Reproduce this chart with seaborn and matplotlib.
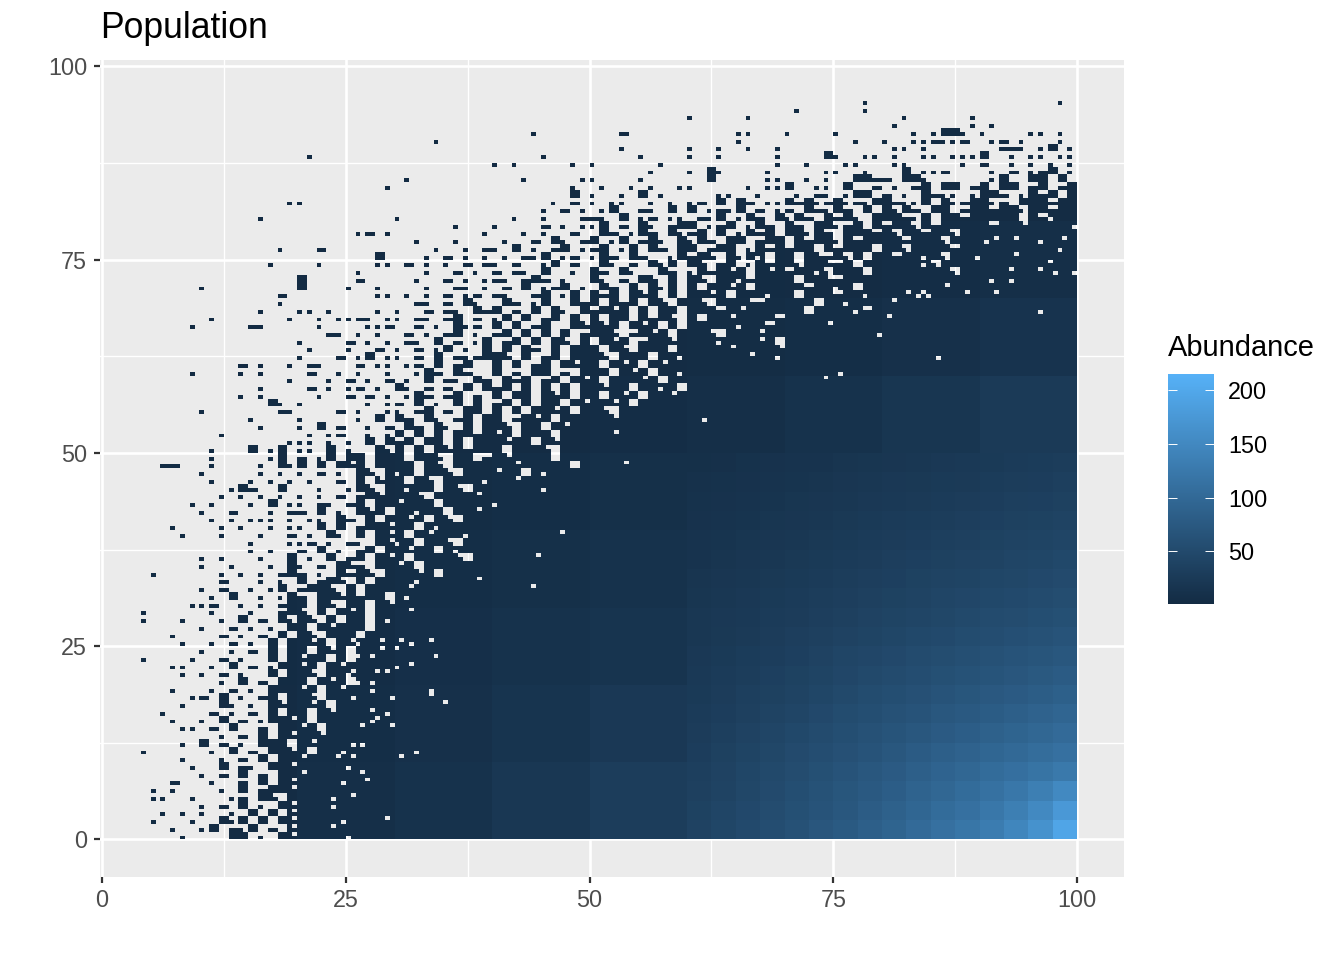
import numpy as np
import pandas as pd
import matplotlib
matplotlib.use("Agg")
import matplotlib.pyplot as plt
from matplotlib.colors import LinearSegmentedColormap
import seaborn as sns

# Occupied cells, one row per unit of y.
# (y, first decade of x, one character per unit of x)
# . empty, o one cell, - two cells side by side, u and v three cells, # all four cells
# Rows up to LAST_SOLID_ROW are filled up to x = 100 after the pattern ends.
LAST_SOLID_ROW = 82
ROWS = [
    (95, 7, "........o. .......... ........o."),
    (94, 7, ".o......o."),
    (93, 6, "o.....o... .......... ..o......o"),
    (92, 8, ".o.......o .o"),
    (91, 4, "....o..... ...-...... .....oo... o....o.... ...o.o##o. o....oo.o."),
    (90, 3, "....o..... .......... .......... .....o.... .......o.. o..oo-oo-. .o-.o...o."),
    (89, 5, "...o...... o..o..o..o .......... .oo.o..... ..--o.o#.o"),
    (88, 2, ".o........ .......... .....o.... .....o.... o..o.....o ....#o..oo .o..oo.ooo #..o.oo.oo"),
    (87, 4, "o.o.....o. o......o.. .........o ..o...oo.. .oo.....o. -..o.o.o.o"),
    (86, 5, "......o... o.#o....o. ....oo..o. ..#.oo-... .o.-.o-#.o"),
    (85, 3, ".o........ ...o.....o o....o.... ..#.....oo ..o.o..##- -.##o..... .o#..##.#."),
    (84, 2, ".........o .......... ........o. .o..o.o..o o.....o.oo #..oo.#..- .o.-#.##.- #.##.-#.-#"),
    (83, 4, "........#. o..o.#.o.. ...oo..o.. .o.-o.o##. -.o.#-oo.o ##-.o#-#.#"),
    (82, 1, ".........o o......... .......... ......o.-. o.oo..o.o. o-.#.#-.oo #-#o-#o-o# #-oo#.#o-# #o-.###-##"),
    (81, 3, ".......... .....o.-.o .o#..-o.#. #.o-o#.-.o -.#-o#-.#. #o#-.##.-# #-##o##-##"),
    (80, 1, "......o... .......... o......... ..o..o...- -o.#.o-.oo .-o#.o#-.# o#-.#-#o.# ##-o#.##-# ####.#-###"),
    (79, 3, "......o... o....-.o.o o#.-.#o.-# #.o-#.o#-. #-.##o-#.# -##o#-#### #-#####"),
    (78, 2, "......o-.o .........o ...o.o..-. .#-.o#-.#o -#.#.o#-#. ##o#-.###- #o##-##o## ######"),
    (77, 2, ".......... ..o...o... .o..-.#o.- #.o#.-#o.# o#-.##.-## .#-##o#-## ##-###o### ####"),
    (76, 1, "........o. ..-....... ....o..o.- o.#.o.-#.o -#.o#.#-.# #.-##.o#-# -##.#-###. ##o####-## ##"),
    (75, 2, "........#. ...o.-.o.o .o.-o#.o-. o#-.#-..o# -#u.#o#v.# #.#u-#o#.# #-##v#o### #"),
    (74, 1, ".......o.. ..o.....oo .-.o.o.-.- o.-..o#.-. .#o.-.#o#. #u.-#.o#-# #o##u-#.## ####vo####"),
    (73, 2, "......o... ...o..-.o. -.-o.#..o. #-.#o..#-. o#-#u#.#u# -##vo###.# #######o"),
    (72, 2, "#.....-... ..o..-.o.o -o.-#-.o.. #o.-.#u.#. #u.##v-### #.##u-#### #######"),
    (71, 1, "o......... #....o..o. ...o..-o.o .-.#.o-#.o .#-.#.#o#. #.##u#.### ##-##v#.## ######"),
    (70, 1, "........-. ........oo .o.o.-.o-. -o..-#.o#. #-#.#u#.#. ##u#.###v# #.###-#### ####"),
    (69, 1, "........o. .......... ..-o.-.#o. .#-.o#..#- #.#-#.#u.# #u.###u-## ###.##v### ##"),
    (68, 1, "......o... oo.o....o. o..-.-o.#- #.-.#.#o.# -#u#.#.##. ###-#u#### ##.####v-#"),
    (67, 1, ".o.......o ..o.oo-o.o o.-o.-#.-. o#.#.-#.#. #.##.#-#u. #.##u####- #######"),
    (66, 0, ".........o .....-o... ..o....oo- ..-.o.#o-. #.#.-#..#u #u#.#u#.#. #####v##-# ####"),
    (65, 2, "...-o.o.o. .-.o.-#.o. -#.#.#.#.- ##u.-#u#.# ##u.###u## ##"),
    (64, 2, "o....-.o.o .-o.#.-.o# .-#.#.#u.# .#u#.-##u# ###v###u#."),
    (63, 2, ".o...o..-. o.-.o#.o.# .#.#-.#.## #.#u.###.# ####u###"),
    (62, 2, "o...-.o#.o o.-.#.-o-# #u.#.-#.## #u.###.##v ######"),
    (61, 1, "....-.o..o .-o...-.oo .o-.#.-#.. #.#.-#.#u# #.#u#.#u## ####"),
    (60, 0, ".........o ....o.o... .-..o.o..o ..o#-.#-.. #.-.##.-.# ##.#u#.##v ###"),
    (59, 1, ".........o ...o.-.o.- .o.#.-o.#- .#-#.-#.#u #.###u#.## ##"),
    (58, 1, "......o... .-.o.o-.o. #o.-.-.#.# -#.#.#.#.# #u##.##v#. #"),
    (57, 1, "....o.o... ..o..-.-.o .o#-.-#.-. #.##.#u#.# #.#u#.##u#"),
    (56, 1, ".......#o. o......o.o -.#.o.#.#. -#.#.##.#u ##u#.###"),
    (55, 1, "o.......-o ....-.o..o o.-#.-.##. #.#.##u#.# #u.####"),
    (54, 1, ".....o.... o.....o.#. #-.#o.-#.# #.-#u#.### ##u###"),
    (53, 1, "......o... o.#.-..o.- .#-.#o.#.# #u.##.#u## ###"),
    (52, 1, "..o....... .o.o-..o.o #.#.#.##-# u#.###.### ##u#"),
    (51, 1, ".........o oo.o.o.#.# -#.##.#.## #u##.#u### ###"),
    (50, 1, ".o...#.o#. oo.#.o..#o #.#.#u#-## #.###u.### ##"),
    (49, 1, ".o.....o#. -.o#.##.## #.##u.##.- #u####.### #"),
    (48, 0, "......--.. .o....o.#o #.#.#u#.## ##.#u.#### ##u#####.#"),
    (47, 1, "o.....o.o. o.-.o.#u.# v#.##u.### u##.#v###"),
    (46, 1, ".o...o.o.o .o..-.#.u# #.#u.####v ##u#####"),
    (45, 1, "...o#-..#. ..o..o#u.# #v##.#u.## #####v#"),
    (44, 1, "..o.o.o.o. o.o.-.-#u# ##u.####u# ######"),
    (43, 0, ".........o .o...o.#.o o.-o.-#.## u###.##### v#####"),
    (42, 1, "o..-...o.- -.#.o.#u#. ##v##.##u# #####"),
    (41, 1, ".o.o.ooo.o .oo.#-.#.# #u#.#u.### ####"),
    (40, 0, ".......o.. ..o.o..o.o o.#.#.-##u ##.#v##### ###"),
    (39, 0, "........o. ..o...o..- .o.#o.#.#u #.#u###v## ##"),
    (38, 1, ".....o...o o-.o.-o.#u v#.##u.### ##"),
    (37, 1, ".....o.o.. -.#.o.-#.# #u##.#v### #"),
    (36, 1, "o.o...o..# .o.#.-#.#u #.####u.## #"),
    (35, 1, "o..o...o.# o.-.#u-.## u#.#######"),
    (34, 0, ".....o.... ..o.o.o.-# -.o.#-#u.# ##u#.####"),
    (33, 1, "..-...o.o. #.-#u.#.## ##v#####u"),
    (32, 1, "o.-..o.o#. -##u.#.### #u#####"),
    (31, 1, ".o.#..o.o# -.##u#-##. #v####"),
    (30, 0, ".........o o-..o.o.-# #.#u.##.#u ######"),
    (29, 0, "....o..... .o...o..-# u.#.#u#.## #u###"),
    (28, 0, "....o...o. ..o.#.-.#o #u.#.##.#v ####"),
    (27, 1, "o..-.o.o.# #.#u###.## ###"),
    (26, 0, ".......o.. ..-.o.-.#. #u.###.### ##"),
    (25, 0, "........o. .o.-.o.#.# #u#.#u####"),
    (24, 1, "o..o.-.#.# #.#u#.####"),
    (23, 0, "....o....o ..-.o..#.# u##.#.#u##"),
    (22, 0, ".......oo. .o.#.-.o## u#.#u###"),
    (21, 0, "........o. o.-.o..#.# #u.##u###"),
    (20, 1, "..o.#.-.## #.#u#.##"),
    (19, 0, ".......o.. .o.-.o.### u#.#u##"),
    (18, 0, ".........o -.#.o.-#.# #u.##"),
    (17, 0, "........o. ..#o.o.#u# #u#.##"),
    (16, 0, "......o... .-.o.-.#.# #.#u##"),
    (15, 0, ".......o.. o.#.-.o##u #.##"),
    (14, 0, "........oo .-.#..-.## u#.#"),
    (13, 1, "..o.-.#.#u ##u"),
    (12, 0, "........o. #.-.o.###. #u#"),
    (11, 0, "....o..... .o.#.-.##u #."),
    (10, 0, "........o. ..o.-.#.## u#"),
    (9, 0, ".........o ..#.-o.##u #"),
    (8, 1, "o.-.#.-.## u"),
    (7, 0, ".......-.. .o..-.#.#u"),
    (6, 0, ".....o.o.. ..o.#.-##u"),
    (5, 0, ".....oo..o ...o-.#u."),
    (4, 1, "o.-.#.o.#u"),
    (3, 0, "......o.o. o..o.#.#.u"),
    (2, 0, ".....o...o ..#o#.#.#u"),
    (1, 0, ".......o.. o#.-o#.-.u"),
    (0, 0, "........o. ...##.o.#u"),
]

# Empty cells inside the solid part of the cloud
HOLE_X = [96.3, 79.7, 85.7, 74.8, 69.8, 69.2, 66.8, 80.7, 88.7, 91.8, 99.8, 97.8, 96.2, 97.2,
          93.3, 91.3, 93.3, 86.8, 84.2, 82.8, 84.7, 83.8, 81.2, 78.2, 98.2, 96.2, 98.8, 93.8,
          91.8, 90.7, 89.7, 93.8, 97.2, 94.8, 99.8, 61.7, 74.4, 75.7, 53.9, 47.4, 44.6, 44.3,
          35.4, 33.9, 32.3, 30.9, 29.2, 25.1,
          26.3, 28.9, 30.8, 31.8, 33.8, 28.9, 30.3, 26.3, 34.3, 30.3, 31.8, 28.3, 29.4, 25.3,
          27.8, 26.3, 27.5, 25.8, 29.8, 33.8, 27.8, 29.3, 28.3, 27.8, 26.5, 29.8, 25.8, 26.8,
          24.8, 24.0, 25.8, 30.8, 32.3, 25.3, 26.8, 27.3, 24.8, 25.8, 23.8, 23.8, 24.8, 29.3,
          23.8, 25.3]
HOLE_Y = [68.3, 65.3, 62.3, 66.5, 63.7, 62.2, 62.8, 67.7, 70.7, 70.7, 73.3, 73.3, 73.8, 74.7,
          73.8, 72.3, 72.3, 71.7, 70.7, 70.7, 70.2, 70.2, 69.8, 70.2, 76.3, 77.2, 77.8, 77.8,
          77.5, 77.2, 75.2, 75.6, 80.0, 79.7, 79.0, 54.3, 59.7, 60.3, 48.5, 39.9, 36.7, 32.9,
          17.8, 19.0, 11.3, 10.6, 2.7, 0.2,
          25.3, 25.7, 25.7, 25.3, 25.7, 24.5, 24.8, 23.8, 23.8, 22.3, 22.5, 21.5, 21.7, 21.0,
          20.3, 20.3, 19.3, 18.3, 18.3, 18.7, 16.8, 16.2, 15.7, 15.3, 14.7, 14.7, 12.2, 12.2,
          11.3, 10.7, 10.7, 10.7, 11.3, 9.0, 8.8, 7.7, 7.3, 5.8, 5.3, 4.3, 2.3, 2.8,
          1.8, 0.2]

# Abundance estimated from the colours, bright corner (x >= 60, y < 50)
BRIGHT_X = [60, 62.5, 65, 67.5, 70, 72.5, 75, 77.5, 80, 82.5, 85, 87.5, 90, 92.5, 95, 97.5]
BRIGHT_Y = [0, 2.5, 5, 7.5, 10, 12.5, 15, 17.5, 20, 22.5, 25, 27.5, 30, 32.5, 35, 37.5, 40, 42.5, 45, 47.5]
BRIGHT = [
    [38, 44, 50, 56, 62, 70, 76, 84, 92, 102, 112, 120, 130, 146, 165, 195],
    [37, 42, 48, 54, 60, 66, 72, 80, 87, 95, 104, 112, 122, 134, 150, 175],
    [35, 40, 46, 51, 57, 63, 69, 75, 82, 90, 97, 104, 113, 123, 134, 150],
    [33, 38, 44, 49, 54, 60, 65, 71, 77, 84, 91, 97, 104, 110, 117, 125],
    [31, 36, 41, 46, 51, 56, 61, 66, 72, 78, 84, 89, 95, 100, 106, 112],
    [29, 33, 38, 42, 47, 52, 57, 62, 67, 72, 77, 82, 87, 92, 97, 102],
    [27, 31, 35, 39, 43, 48, 53, 57, 62, 66, 71, 75, 79, 84, 89, 93],
    [25, 29, 33, 36, 40, 44, 49, 53, 57, 61, 65, 69, 73, 77, 81, 85],
    [24, 27, 30, 34, 37, 41, 45, 49, 52, 56, 60, 63, 67, 70, 74, 78],
    [22, 25, 28, 31, 34, 38, 42, 45, 48, 52, 55, 58, 62, 65, 68, 72],
    [21, 23, 26, 29, 32, 35, 38, 41, 44, 47, 50, 53, 56, 59, 62, 65],
    [20, 22, 24, 27, 29, 32, 35, 38, 41, 43, 46, 49, 52, 54, 57, 60],
    [18, 20, 22, 25, 27, 30, 32, 35, 37, 40, 42, 45, 47, 50, 52, 55],
    [17, 19, 21, 23, 25, 27, 30, 32, 34, 37, 39, 41, 44, 46, 48, 51],
    [15, 17, 19, 21, 23, 25, 27, 29, 32, 34, 36, 38, 40, 42, 44, 47],
    [14, 16, 18, 19, 21, 23, 25, 27, 29, 31, 33, 35, 37, 39, 41, 43],
    [13, 14, 16, 18, 19, 21, 23, 25, 27, 28, 30, 32, 34, 36, 37, 39],
    [12, 13, 15, 16, 18, 19, 21, 22, 24, 26, 27, 29, 31, 33, 34, 36],
    [11, 12, 13, 15, 16, 17, 19, 20, 22, 23, 25, 26, 28, 30, 31, 33],
    [9, 10, 12, 13, 14, 15, 17, 18, 19, 21, 22, 24, 25, 27, 28, 30],
]

# Everywhere else, one value per 10 x 10 block
DARK = [
    [2, 3, 7, 12, 20, 30, 38, 60, 100, 150],
    [2, 3, 6, 10, 16, 22, 30, 50, 80, 110],
    [2, 2, 5, 8, 12, 16, 22, 38, 55, 75],
    [2, 2, 4, 6, 9, 12, 17, 28, 40, 55],
    [2, 2, 3, 4, 6, 9, 12, 20, 28, 38],
    [2, 2, 2, 3, 3, 5, 7, 12, 18, 26],
    [1, 1, 2, 2, 2, 3, 4, 6, 10, 14],
    [1, 1, 1, 1, 2, 2, 2, 3, 5, 7],
    [1, 1, 1, 1, 1, 2, 2, 2, 3, 3],
    [1, 1, 1, 1, 1, 1, 1, 2, 2, 2],
]

TICKS = [0, 25, 50, 75, 100]
MINOR_TICKS = [12.5, 37.5, 62.5, 87.5]
LEGEND_TICKS = [50, 100, 150, 200]
LOW_COLOR = "#132B43"
HIGH_COLOR = "#56B1F7"

CELLS = {
    "o": [(0, 0)],
    "-": [(0, 0), (1, 0)],
    "u": [(0, 0), (1, 0), (0, 1)],
    "v": [(1, 0), (0, 1), (1, 1)],
    "#": [(0, 0), (1, 0), (0, 1), (1, 1)],
}


def build_table():
    filled = np.zeros((200, 200), dtype=bool)
    for y, decade, pattern in ROWS:
        pattern = pattern.replace(" ", "")
        for i, ch in enumerate(pattern):
            col = decade * 10 + i
            if col >= 100:
                break
            for dx, dy in CELLS.get(ch, []):
                filled[col * 2 + dx, y * 2 + dy] = True
        if y <= LAST_SOLID_ROW:
            end = (decade * 10 + len(pattern)) * 2
            filled[end:, y * 2:y * 2 + 2] = True
    for hx, hy in zip(HOLE_X, HOLE_Y):
        filled[min(int(hx * 2), 199), int(hy * 2)] = False

    bright = np.array(BRIGHT)
    dark = np.array(DARK)
    records = []
    for i, j in zip(*np.nonzero(filled)):
        x, y = i / 2, j / 2
        if x >= BRIGHT_X[0] and y < 50:
            value = bright[int(y / 2.5), int((x - BRIGHT_X[0]) / 2.5)]
        else:
            value = dark[int(y // 10), int(x // 10)]
        records.append((x + 0.25, y + 0.25, value))
    return pd.DataFrame(records, columns=["x", "y", "abundance"])


df = build_table()

plt.rcParams["font.family"] = ["Liberation Sans", "DejaVu Sans"]
fig = plt.figure(figsize=(13.44, 9.6), dpi=100)
ax = fig.add_axes([100.4 / 1344, 1 - 877 / 960, 1023.6 / 1344, 817 / 960])
cax = fig.add_axes([1168 / 1344, 1 - 604 / 960, 46 / 1344, 230 / 960])

ax.set_facecolor("#EBEBEB")
cmap = LinearSegmentedColormap.from_list("ggblue", [LOW_COLOR, HIGH_COLOR])
edges = np.arange(0, 100.5, 0.5)
sns.histplot(data=df, x="x", y="y", weights="abundance", bins=(edges, edges), cmap=cmap,
             vmin=1, vmax=215, cbar=True, cbar_ax=cax, ax=ax)

ax.set_xlim(-0.164, 104.82)
ax.set_ylim(-4.85, 100.8)
ax.set_xlabel("")
ax.set_ylabel("")
ax.set_xticks(TICKS)
ax.set_yticks(TICKS)
ax.set_xticks(MINOR_TICKS, minor=True)
ax.set_yticks(MINOR_TICKS, minor=True)
ax.set_axisbelow(True)
ax.grid(True, which="major", color="white", linewidth=1.9)
ax.grid(True, which="minor", color="white", linewidth=0.95)
ax.tick_params(which="major", length=4.5, width=1.6, color="#333333", labelcolor="#4D4D4D",
               labelsize=16.8, pad=5)
ax.tick_params(axis="x", which="major", pad=4)
ax.tick_params(which="minor", length=0)
for spine in ax.spines.values():
    spine.set_visible(False)

cax.set_yticks(LEGEND_TICKS)
cax.tick_params(length=0, labelsize=16.8, pad=10, labelcolor="black")
for spine in cax.spines.values():
    spine.set_visible(False)
for v in LEGEND_TICKS:
    cax.hlines(v, 0, 0.2, color="white", linewidth=0.7, transform=cax.get_yaxis_transform())
    cax.hlines(v, 0.8, 1, color="white", linewidth=0.7, transform=cax.get_yaxis_transform())

fig.text(100 / 1344, 1 - 29 / 960, "Population", fontsize=25.6, va="center", ha="left", color="black")
fig.text(1168 / 1344, 1 - 348 / 960, "Abundance", fontsize=20.9, va="center", ha="left", color="black")

fig.savefig("out.png", dpi=100)
plt.close(fig)
